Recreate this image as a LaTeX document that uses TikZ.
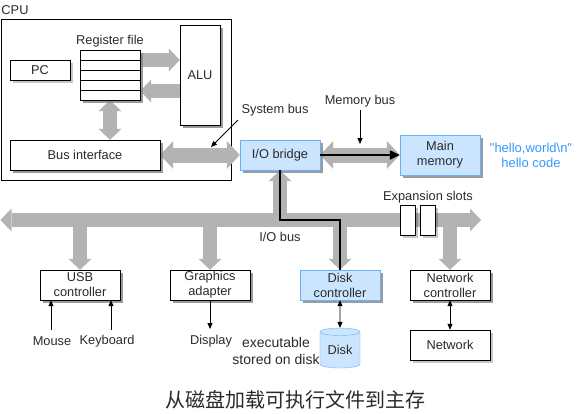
\documentclass[tikz,border=0pt]{standalone}
\usepackage{fontspec}
\setmainfont{Liberation Sans}
\newfontfamily\plainfont{Liberation Sans}
\newfontfamily\cjkfont{Noto Sans CJK SC}
\usetikzlibrary{arrows.meta,shapes.geometric,shadows,calc}
\definecolor{busgray}{HTML}{B3B3B3}
\definecolor{bfill}{HTML}{CCE5FF}
\definecolor{bline}{HTML}{66B2FF}
\definecolor{hellob}{HTML}{3399FF}
\definecolor{txt}{HTML}{2A2A2A}
\begin{document}
\begin{tikzpicture}[x=1pt,y=-1pt,
  font=\fontsize{12.8pt}{15pt}\selectfont, text=txt,
  wh/.style 2 args={minimum width=#1pt, minimum height=#2pt},
  shad/.style={drop shadow={shadow xshift=3pt,shadow yshift=-3pt,fill=black,opacity=0.22}},
  box/.style={draw=black, fill=white, inner sep=0pt, align=center, shad},
  bbox/.style={draw=bline, fill=bfill, inner sep=0pt, align=center, shad},
  lbl/.style={inner sep=0pt, align=center},
  gbar2/.style={draw=busgray, line width=15pt,
     {Triangle[length=13pt,width=28pt,line width=0pt]}-{Triangle[length=13pt,width=28pt,line width=0pt]}},
  gsmall/.style={draw=busgray, line width=14pt,
     -{Triangle[length=11pt,width=23pt,line width=0pt]}},
  gsmall2/.style={draw=busgray, line width=14pt,
     {Triangle[length=11pt,width=23pt,line width=0pt]}-{Triangle[length=11pt,width=23pt,line width=0pt]}},
  tarr/.style={draw=black, line width=0.8pt, -{Triangle[length=6pt,width=5pt]}},
  tarr2/.style={draw=black, line width=0.8pt, {Triangle[length=6pt,width=5pt]}-{Triangle[length=6pt,width=5pt]}},
  fatline/.style={draw=black, line width=2.2pt},
]
\useasboundingbox (0,0) rectangle (581,413);

% CPU
\node[draw=black, inner sep=0pt, wh={230}{161}] (cpu) at (116,99.5) {};
\node[lbl] (cpulbl) at (15,10) {CPU};
\node[box, wh={60}{20}] (pc) at (40,70) {PC};
\node[box, wh={60}{50}] (rf) at (110,75) {};
\node[lbl] (rflbl) at (110,41) {Register file};
\node[box, wh={40}{100}] (alu) at (200,75) {ALU};
\node[box, wh={150}{30}] (busif) at (85,155) {Bus interface};

% bridge, memory
\node[bbox, wh={80}{30}] (iob) at (280,155) {I/O bridge};
\node[bbox, wh={80}{40}] (mem) at (440,155) {Main\\memory};
\node[lbl, text=hellob, font=\plainfont\fontsize{13pt}{15.5pt}\selectfont] (hello) at (531,155.5) {"hello,world\textbackslash n"\\hello code};

% I/O devices
\node[box, wh={80}{30}] (usb) at (80,285) {USB\\controller};
\node[box, wh={80}{30}] (gfx) at (210,285) {Graphics\\adapter};
\node[bbox, wh={80}{30}] (dc) at (340,285) {Disk\\controller};
\node[box, wh={80}{30}] (nc) at (450,285) {Network\\controller};
\node[box, wh={80}{30}] (net) at (450,345) {Network};
\node[cylinder, shape border rotate=90, aspect=0.3, draw=bline, fill=bfill,
      minimum width=40pt, minimum height=40pt, inner sep=0pt] (disk) at (340,350) {\raisebox{-5pt}{Disk}};

% bus coordinates
\coordinate (busL) at (0.5,220);
\coordinate (busR) at (481,220);

% gray buses
\draw[gsmall2] (busL) -- (busR);
\draw[gsmall] ([yshift=15pt]rf.east) -- ([yshift=15pt]alu.west);
\draw[gsmall] ([yshift=-16pt]alu.west) -- ([yshift=-16pt]rf.east);
\draw[gsmall2] (rf.south) -- (rf.south |- busif.north);
\draw[gbar2] (busif.east) -- (iob.west);
\draw[gbar2] (iob.east) -- (mem.west);
\draw[gsmall] (iob.south |- busR) -- (iob.south);
\draw[gsmall] (usb.north |- busR) -- (usb.north);
\draw[gsmall] (gfx.north |- busR) -- (gfx.north);
\draw[gsmall] (dc.north |- busR) -- (dc.north);
\draw[gsmall] (nc.north |- busR) -- (nc.north);

% redraw boxes above bars
\node[box, wh={60}{50}] at (rf) {};
\foreach \dy in {15,5,-5,-15}
  \draw ([yshift=\dy pt]rf.west) -- ([yshift=\dy pt]rf.east);
\node[box, wh={40}{100}] at (alu) {ALU};
\node[box, wh={150}{30}] at (busif) {Bus interface};
\node[bbox, wh={80}{30}] at (iob) {I/O bridge};
\node[bbox, wh={80}{40}] at (mem) {Main\\memory};
\node[box, wh={80}{30}] at (usb) {USB\\controller};
\node[box, wh={80}{30}] at (gfx) {Graphics\\adapter};
\node[bbox, wh={80}{30}] at (dc) {Disk\\controller};
\node[box, wh={80}{30}] at (nc) {Network\\controller};

% expansion slots
\node[box, wh={15}{30}] (slot1) at (407.5,220) {};
\node[box, wh={15}{30}] (slot2) at (427.5,220) {};
\node[lbl] (explbl) at (428,197) {Expansion slots};

% labels
\node[lbl] (sbl) at (275,110) {System bus};
\coordinate (sbpt) at (211,147);
\coordinate (sbfrom) at (238,120);
\draw[tarr] (sbfrom) -- (sbpt);
\node[lbl] (mbl) at (360,101) {Memory bus};
\coordinate (mbpt) at (360,144);
\draw[tarr] ([yshift=-3pt]mbl.south) -- (mbpt);
\node[lbl] (iobl) at (280,237) {I/O bus};

% black data path
\draw[fatline] (iob.south) -- (iob.south |- busR) -| (dc.north);
\draw[fatline, -{Triangle[length=10pt,width=9pt]}] (iob.east) -- (mem.west);

% peripherals
\node[lbl] (mouse) at (52,341) {Mouse};
\node[lbl] (kbd) at (107,341) {Keyboard};
\node[lbl] (disp) at (211,341) {Display};
\coordinate (mouseT) at (51,330);
\coordinate (kbdT) at (111,330);
\coordinate (dispT) at (210,329);
\draw[tarr] (mouseT) -- (mouseT |- usb.south);
\draw[tarr] (kbdT) -- (kbdT |- usb.south);
\draw[tarr] (dispT |- gfx.south) -- (dispT);
\draw[tarr2] (dc.south) -- (disk.north);
\draw[tarr2] (nc.south) -- (net.north);
\node[lbl, font=\fontsize{14pt}{16.5pt}\selectfont] (exe) at (276,351) {executable\\stored on disk};

% caption
\node[lbl, font=\cjkfont\fontsize{20pt}{22pt}\selectfont] (cap) at (295,400) {从磁盘加载可执行文件到主存};
\end{tikzpicture}
\end{document}
